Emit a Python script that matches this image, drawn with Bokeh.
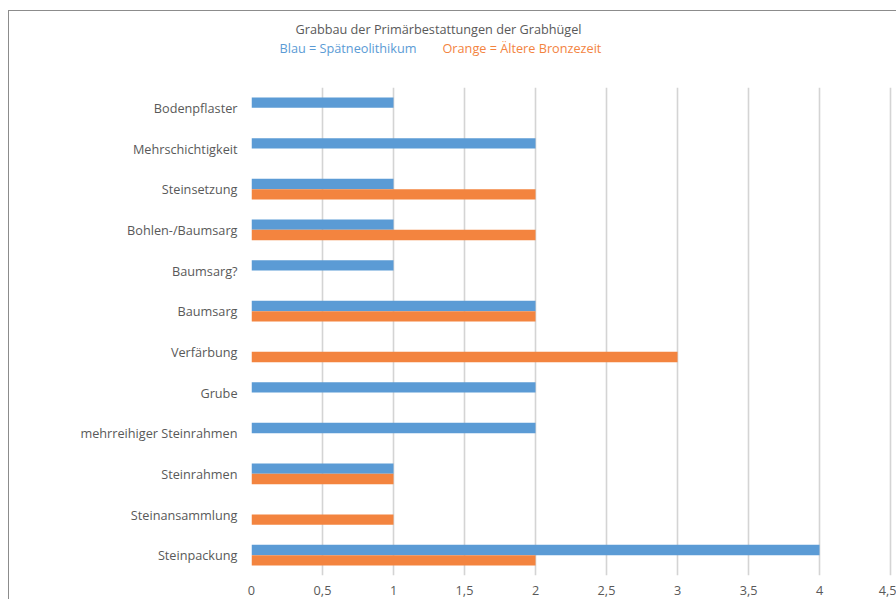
from bokeh.plotting import figure
from bokeh.layouts import column
from bokeh.models import FactorRange, Range1d, FixedTicker, ColumnDataSource
from bokeh.core.properties import value
from bokeh.transform import dodge
from bokeh.embed import file_html
from bokeh.resources import INLINE

# categories listed top to bottom as in the chart
categories = ["Bodenpflaster", "Mehrschichtigkeit", "Steinsetzung", "Bohlen-/Baumsarg",
              "Baumsarg?", "Baumsarg", "Verfärbung", "Grube",
              "mehrreihiger Steinrahmen", "Steinrahmen", "Steinansammlung", "Steinpackung"]
spaetneolithikum = [1, 2, 1, 1, 1, 2, 0, 2, 2, 1, 0, 4]
bronzezeit = [0, 0, 2, 2, 0, 2, 3, 0, 0, 1, 1, 2]
x_ticks = [0, 0.5, 1, 1.5, 2, 2.5, 3, 3.5, 4, 4.5]
x_tick_labels = ["0", "0,5", "1", "1,5", "2", "2,5", "3", "3,5", "4", "4,5"]

title_text = "Grabbau der Primärbestattungen der Grabhügel"
legend_blue = "Blau = Spätneolithikum"
legend_orange = "Orange = Ältere Bronzezeit"

BLUE = "#5B9BD5"
ORANGE = "#F3843F"
TEXT = "#595959"
FONT = "Open Sans"
FS = "12.7px"

W = 887
HEAD_H = 76
LEFT = 242

# --- header (title and colour legend as text); its frame is aligned with the chart frame ---
head = figure(width=W, height=HEAD_H, output_backend="svg", toolbar_location=None,
              x_range=Range1d(LEFT, W), y_range=Range1d(HEAD_H, 0),
              x_axis_type=None, y_axis_type=None,
              min_border_left=LEFT, min_border_right=0, min_border_top=0, min_border_bottom=0)
head.outline_line_color = None
head.xgrid.grid_line_color = None
head.ygrid.grid_line_color = None
head.text(x=[429], y=[17], text=[title_text], text_align="center", text_baseline="middle",
          text_font=value(FONT), text_font_size=value(FS), text_color=TEXT)
head.text(x=[270], y=[36], text=[legend_blue], text_align="left", text_baseline="middle",
          text_font=value(FONT), text_font_size=value(FS), text_color=BLUE)
head.text(x=[433], y=[36], text=[legend_orange], text_align="left", text_baseline="middle",
          text_font=value(FONT), text_font_size=value(FS), text_color=ORANGE)

# --- bar chart ---
source = ColumnDataSource(dict(cat=categories, blue=spaetneolithikum, orange=bronzezeit))
factors = list(reversed(categories))
p = figure(width=W, height=588 - HEAD_H, output_backend="svg", toolbar_location=None,
           y_range=FactorRange(*factors, range_padding=0),
           x_range=Range1d(0, 4.542),
           min_border_left=LEFT, min_border_right=0, min_border_top=0, min_border_bottom=24)

bh = 0.255
p.hbar(y=dodge("cat", bh / 2, range=p.y_range), right="blue", height=bh, left=0,
       source=source, fill_color=BLUE, line_color=None)
p.hbar(y=dodge("cat", -bh / 2, range=p.y_range), right="orange", height=bh, left=0,
       source=source, fill_color=ORANGE, line_color=None)

p.outline_line_color = None
p.background_fill_color = "white"
p.border_fill_color = "white"

p.xaxis.ticker = FixedTicker(ticks=x_ticks)
p.xaxis.major_label_overrides = {t: l for t, l in zip(x_ticks, x_tick_labels)}
for ax in (p.xaxis, p.yaxis):
    ax.axis_line_color = None
    ax.major_tick_line_color = None
    ax.minor_tick_line_color = None
    ax.major_tick_out = 0
    ax.major_tick_in = 0
    ax.major_label_text_font = FONT
    ax.major_label_text_font_size = FS
    ax.major_label_text_color = TEXT
p.xaxis.major_label_standoff = 10
p.yaxis.major_label_standoff = 14

p.xgrid.ticker = FixedTicker(ticks=x_ticks)
p.xgrid.grid_line_color = "#d4d4d4"
p.xgrid.grid_line_width = 1.6
p.ygrid.grid_line_color = None

layout = column(head, p, spacing=0)
layout.styles = {"margin-left": "8px", "margin-top": "10px",
                 "border-left": "1px solid #8c8c8c", "border-top": "1px solid #8c8c8c"}

open("out.html", "w").write(file_html(layout, INLINE))
